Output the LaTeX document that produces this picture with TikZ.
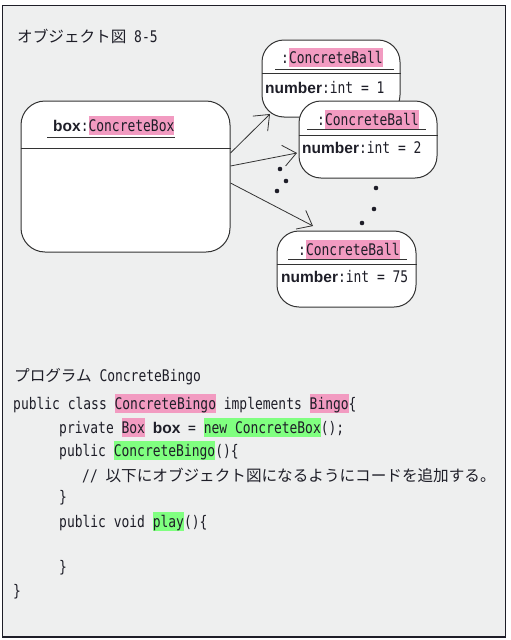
\documentclass[tikz,border=0pt]{standalone}
\usepackage{fontspec}
\usetikzlibrary{arrows.meta}
\newfontfamily\jpfam{Noto Sans CJK JP}
\newfontfamily\monofam[FakeStretch=0.81]{DejaVu Sans Mono}
\newfontfamily\boldfam{Liberation Sans}
\newcommand\cmono{\monofam\mdseries\fontsize{16}{19}\selectfont}
\newcommand\cjp{\jpfam\mdseries\fontsize{15.6}{19}\selectfont}
\newcommand\cbold{\boldfam\bfseries\fontsize{15.5}{19}\selectfont}
\definecolor{hpink}{HTML}{F29BC1}
\definecolor{hgreen}{HTML}{80FF80}
\definecolor{bgc}{HTML}{EEEFEF}
\definecolor{linec}{HTML}{333333}
\definecolor{txtc}{HTML}{1E1E28}
\newcommand\hp[1]{{\setlength{\fboxsep}{0pt}\colorbox{hpink}{\rule[-4pt]{0pt}{19.5pt}#1}}}
\newcommand\hg[1]{{\setlength{\fboxsep}{0pt}\colorbox{hgreen}{\rule[-4pt]{0pt}{19.5pt}#1}}}
\begin{document}
\begin{tikzpicture}[x=1pt,y=-1pt,
  txt/.style={anchor=base west,inner sep=0pt,text=txtc},
  objbox/.style={draw=linec,line width=1pt,fill=white,rounded corners=24pt,inner sep=0pt},
  arr/.style={draw=linec,line width=0.8pt,-{Straight Barb[length=13pt,width=21pt,line width=0.8pt]}},
  rule/.style={draw=linec,line width=1pt}]
\useasboundingbox (0,0) rectangle (511,640);
\draw[fill=bgc,draw=txtc,line width=1.6pt] (2.5,5.5) rectangle (505.5,637);
% title
\node[txt] (title) at (17,42) {\cjp オブジェクト図{\cmono{} 8-5}};
% box object
\node[objbox,minimum width=209pt,minimum height=151pt] (box) at (125.5,176.5) {};
\draw[rule] (box.west |- 0,148) -- (box.east |- 0,148);
\node[txt] (boxname) at (53,131) {{\cbold box}{\cmono :\hp{ConcreteBox}}};
\draw[rule] (47,137) -- (175,137);
% ball 1
\node[objbox,rounded corners=22pt,minimum width=138pt,minimum height=77pt] (b1) at (331,78.5) {};
\draw[rule] (b1.west |- 0,73) -- (b1.east |- 0,73);
\node[txt] (b1name) at (281,63) {\cmono :\hp{ConcreteBall}};
\draw[rule] (275,69) -- (394,69);
\node[txt] (b1attr) at (265,93) {{\cbold number}{\cmono :int = 1}};
% ball 2
\node[objbox,rounded corners=22pt,minimum width=138pt,minimum height=77pt] (b2) at (368,139.5) {};
\draw[rule] (b2.west |- 0,135) -- (b2.east |- 0,135);
\node[txt] (b2name) at (317,125) {\cmono :\hp{ConcreteBall}};
\draw[rule] (307,129) -- (426,129);
\node[txt] (b2attr) at (302,153) {{\cbold number}{\cmono :int = 2}};
% ball 3
\node[objbox,rounded corners=22pt,minimum width=139pt,minimum height=76pt] (b3) at (346.5,269) {};
\draw[rule] (b3.west |- 0,264) -- (b3.east |- 0,264);
\node[txt] (b3name) at (298,255) {\cmono :\hp{ConcreteBall}};
\draw[rule] (288,259) -- (407,259);
\node[txt] (b3attr) at (281,282) {{\cbold number}{\cmono :int = 75}};
% arrows
\coordinate (t1) at (270,114);
\coordinate (t2) at (297,153);
\coordinate (t3) at (313,226);
\draw[arr] ([yshift=23.5pt]box.east) -- (t1);
\draw[arr] ([yshift=10.5pt]box.east) -- (t2);
\draw[arr] ([yshift=-6.5pt]box.east) -- (t3);
% dots
\foreach \p in {(280,169),(286,181),(277,191),(376,188),(374,209),(362,223)}
  \fill[txtc] \p circle (2.3pt);
% program
\node[txt] (ptitle) at (14,381) {\cjp プログラム{\cmono{} ConcreteBingo}};
\node[txt] (l1) at (13,409) {\cmono public class \hp{ConcreteBingo} implements \hp{Bingo}\{};
\node[txt] (l2) at (59,433) {\cmono private \hp{Box} {\cbold box} = \hg{new ConcreteBox}();};
\node[txt] (l3) at (59,456) {\cmono public \hg{ConcreteBingo}()\{};
\node[txt] (l4) at (82,481) {\cmono // {\cjp 以下にオブジェクト図になるようにコードを追加する。}};
\node[txt] (l5) at (59,502) {\cmono \}};
\node[txt] (l6) at (59,527) {\cmono public void \hg{play}()\{};
\node[txt] (l7) at (59,572) {\cmono \}};
\node[txt] (l8) at (13,596) {\cmono \}};
\end{tikzpicture}
\end{document}
